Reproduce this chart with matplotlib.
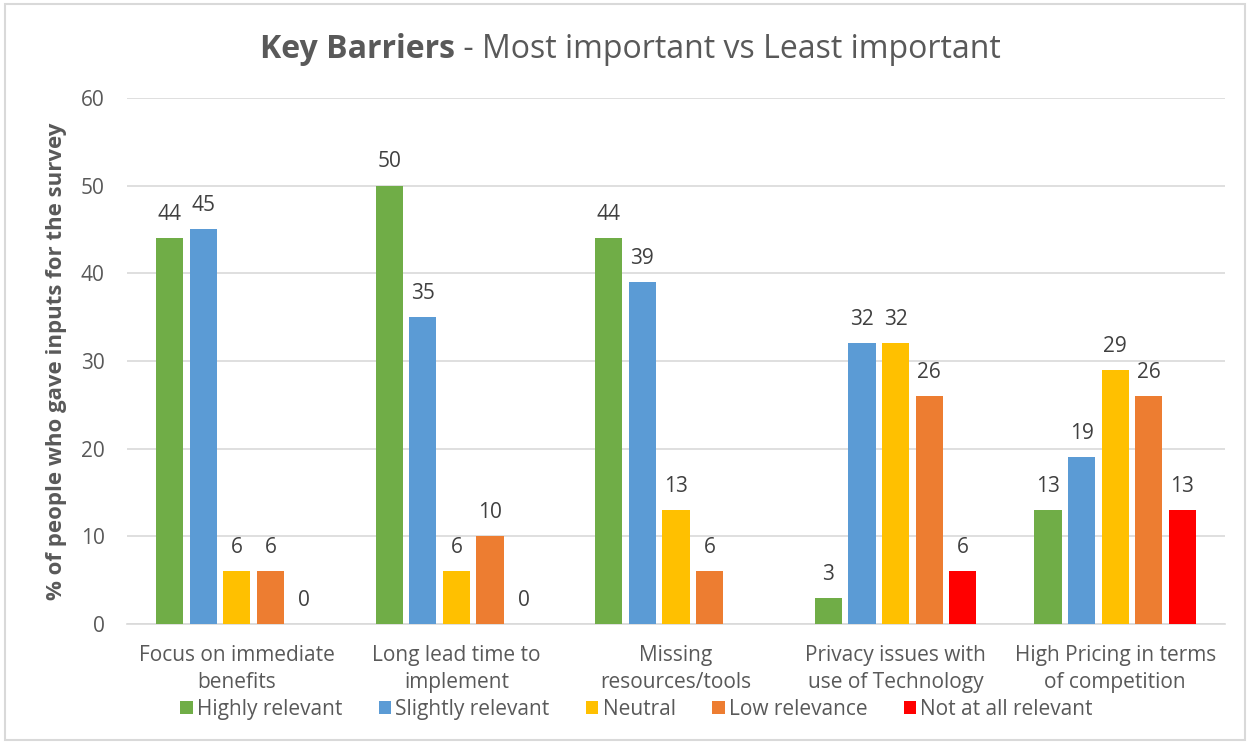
import numpy as np
import matplotlib
matplotlib.use('Agg')
import matplotlib.pyplot as plt
from matplotlib.patches import Rectangle

plt.rcParams['font.family'] = ['Open Sans', 'DejaVu Sans']

categories = ['Focus on immediate\nbenefits', 'Long lead time to\nimplement',
              'Missing\nresources/tools', 'Privacy issues with\nuse of Technology',
              'High Pricing in terms\nof competition']
series = ['Highly relevant', 'Slightly relevant', 'Neutral', 'Low relevance', 'Not at all relevant']
highly = [44, 50, 44, 3, 13]
slightly = [45, 35, 39, 32, 19]
neutral = [6, 6, 13, 32, 29]
low = [6, 10, 6, 26, 26]
not_at_all = [0, 0, None, 6, 13]
colors = ['#70AD47', '#5B9BD5', '#FFC000', '#ED7D31', '#FF0000']

values = [highly, slightly, neutral, low, not_at_all]

fig = plt.figure(figsize=(12.5, 7.43), dpi=100)
fig.patches.append(Rectangle((0.004, 0.004), 0.992, 0.99, transform=fig.transFigure,
                             fill=False, edgecolor='#D9D9D9', linewidth=1.5))
ax = fig.add_axes([0.1016, 0.1602, 0.8784, 0.708])

x = np.arange(len(categories))
step = 0.153
width = 0.123
txt = '#404040'
for i, (name, vals, c) in enumerate(zip(series, values, colors)):
    pos = x + (i - 2) * step
    v = [np.nan if a is None else a for a in vals]
    ax.bar(pos, v, width, color=c, label=name, zorder=3)
    for p, a in zip(pos, vals):
        if a is None:
            continue
        ax.text(p, a + 1.5, str(a), ha='center', va='bottom', fontsize=15, color=txt)

ax.set_xlim(-0.5, len(categories) - 0.5)
ax.set_ylim(0, 60)
ax.set_yticks(range(0, 61, 10))
ax.grid(axis='y', color='#D9D9D9', linewidth=1.2, zorder=0)
for s in ['top', 'right', 'left']:
    ax.spines[s].set_visible(False)
ax.spines['bottom'].set_color('#D9D9D9')
ax.spines['bottom'].set_linewidth(1.2)
ax.tick_params(axis='both', length=0, labelsize=15, labelcolor='#595959')
ax.tick_params(axis='y', pad=16)
ax.tick_params(axis='x', pad=15)
ax.set_xticks(x)
ax.set_xticklabels(categories, linespacing=1.4)
ax.set_ylabel('% of people who gave inputs for the survey', fontsize=16, fontweight='bold',
              color='#595959', labelpad=10)

ax.legend(loc='center', bbox_to_anchor=(0.464, -0.163), ncol=5, frameon=False, fontsize=15,
          handlelength=0.6, handleheight=0.6, handletextpad=0.2, columnspacing=1.75,
          labelcolor='#595959')

# title with a bold lead
fig.canvas.draw()
r = fig.canvas.get_renderer()
t1 = fig.text(0, 0.933, 'Key Barriers', fontsize=23, fontweight='bold', color='#595959', va='center')
t2 = fig.text(0, 0.933, ' - Most important vs Least important', fontsize=23, color='#595959', va='center')
w1 = t1.get_window_extent(r).width / fig.bbox.width
w2 = t2.get_window_extent(r).width / fig.bbox.width
start = 0.504 - (w1 + w2) / 2
t1.set_x(start)
t2.set_x(start + w1)

fig.savefig('out.png', dpi=100)
